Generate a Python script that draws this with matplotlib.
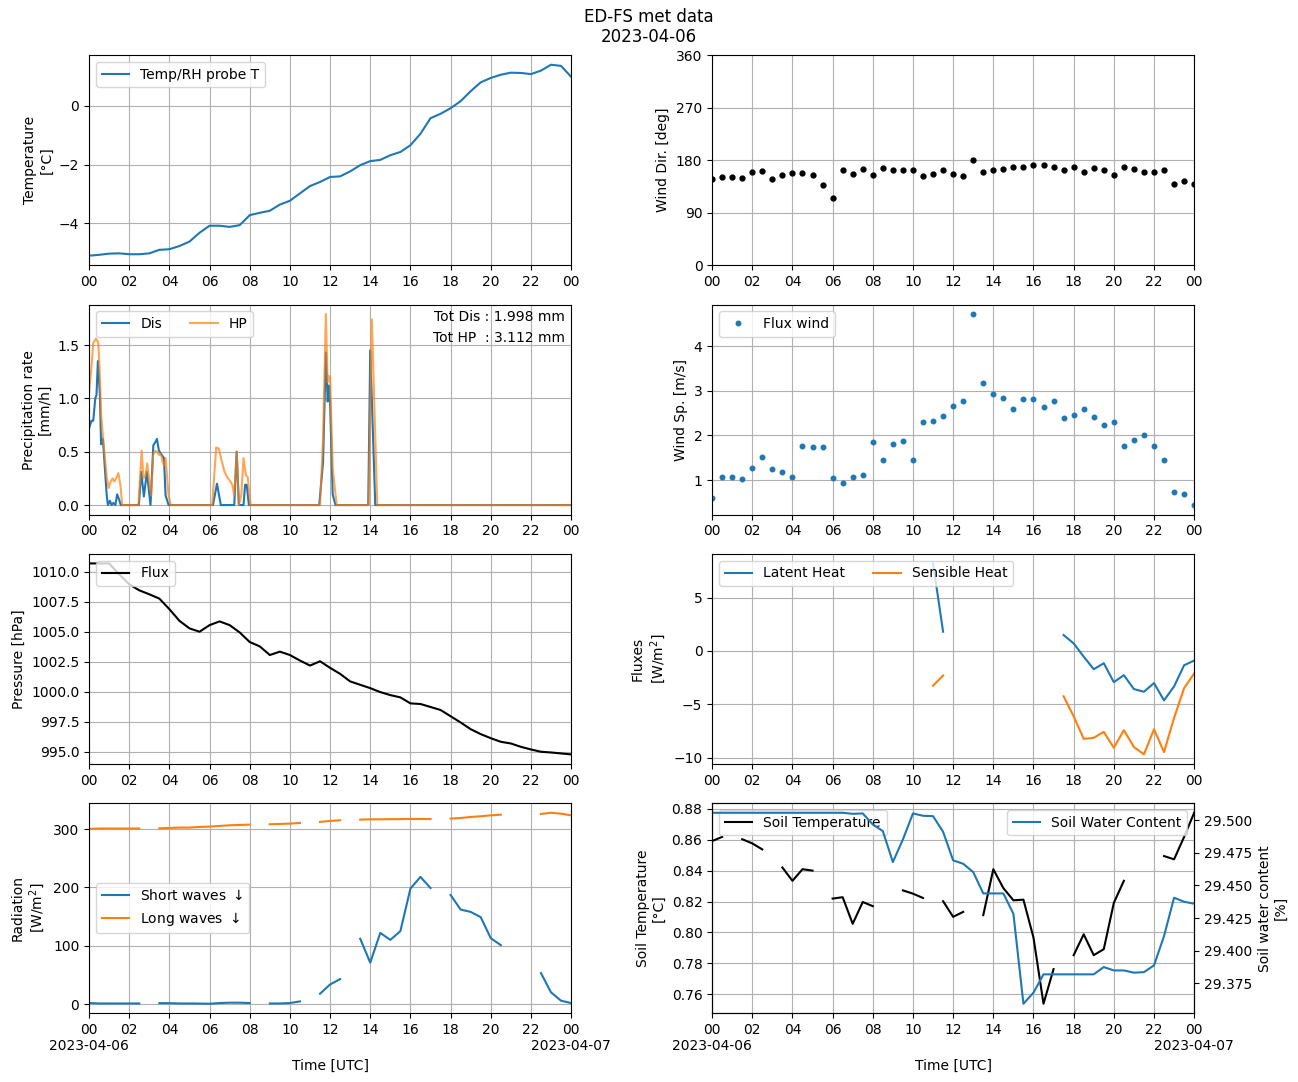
import matplotlib
matplotlib.use("Agg")
import matplotlib.pyplot as plt
import matplotlib.dates as mdates
from matplotlib.ticker import MultipleLocator, FormatStrFormatter
import numpy as np
import pandas as pd

nan = np.nan

# half-hourly series, 00:00 .. 24:00
temp = [-5.10, -5.07, -5.03, -5.02, -5.05, -5.05, -5.02, -4.90, -4.88, -4.77,
        -4.62, -4.32, -4.08, -4.08, -4.12, -4.06, -3.72, -3.64, -3.57, -3.36,
        -3.23, -2.98, -2.73, -2.59, -2.42, -2.40, -2.23, -2.02, -1.88, -1.84,
        -1.68, -1.57, -1.34, -0.95, -0.42, -0.27, -0.08, 0.16, 0.50, 0.80,
        0.95, 1.06, 1.13, 1.12, 1.08, 1.20, 1.40, 1.36, 0.99]

wind_dir = [147, 152, 151, 149, 159, 161, 147, 155, 158, 158,
            155, 137, 115, 163, 156, 165, 155, 166, 163, 163,
            164, 153, 157, 163, 156, 153, 181, 159, 163, 165,
            168, 169, 171, 171, 169, 164, 168, 159, 166, 163,
            155, 168, 165, 159, 159, 163, 140, 144, 140]

wind_sp = [0.60, 1.07, 1.07, 1.02, 1.27, 1.51, 1.25, 1.18, 1.07, 1.76,
           1.74, 1.74, 1.04, 0.93, 1.07, 1.11, 1.85, 1.46, 1.80, 1.87,
           1.45, 2.30, 2.32, 2.43, 2.66, 2.77, 4.72, 3.17, 2.93, 2.84,
           2.59, 2.82, 2.82, 2.64, 2.77, 2.39, 2.45, 2.59, 2.41, 2.23,
           2.30, 1.76, 1.89, 2.02, 1.76, 1.45, 0.73, 0.69, 0.44]

pressure = [1010.69, 1010.69, 1010.69, 1009.78, 1008.95, 1008.45, 1008.12, 1007.76, 1006.88, 1005.91,
            1005.28, 1005.00, 1005.55, 1005.86, 1005.55, 1004.94, 1004.14, 1003.78, 1003.06, 1003.34,
            1003.06, 1002.60, 1002.18, 1002.54, 1001.99, 1001.49, 1000.86, 1000.58, 1000.30, 999.97,
            999.72, 999.53, 999.03, 998.98, 998.73, 998.48, 997.96, 997.44, 996.88, 996.47,
            996.13, 995.83, 995.69, 995.41, 995.19, 995.00, 994.94, 994.86, 994.78]

latent = [nan] * 22 + [8.2, 1.8] + [nan] * 11 + \
         [1.49, 0.71, -0.53, -1.71, -1.15, -2.92, -2.27, -3.57, -3.82, -3.01, -4.63, -3.32, -1.34, -0.90]
sensible = [nan] * 22 + [-3.26, -2.30] + [nan] * 11 + \
           [-4.25, -6.12, -8.23, -8.14, -7.58, -9.07, -7.42, -9.00, -9.69, -7.33, -9.47, -6.27, -3.48, -2.11]

short_wave = [1.7, 1.0, 1.0, 1.0, 1.0, 1.0, nan, 1.5, 1.5, 1.0,
              1.0, 0.8, 0.5, 1.7, 2.3, 2.3, 1.7, nan, 1.0, 1.0,
              1.7, 4.5, nan, 17.7, 33.6, 42.7, nan, 112, 71, 122,
              110, 125, 198, 218, 199, nan, 187, 162, 158, 149,
              113, 101, nan, nan, nan, 53, 20, 5.7, 1.7]
long_wave = [300.3, 301, 301, 301, 301, 301, nan, 301.4, 302, 302.6,
             302.6, 303.7, 304.3, 305.4, 306.6, 307.1, 307.7, nan, 308.3, 308.8,
             309.4, 310.5, nan, 312.3, 314.0, 315.1, nan, 316.2, 316.8, 316.8,
             317.0, 317.2, 317.4, 317.4, 317.2, nan, 318.0, 319.0, 320.8, 322.0,
             323.6, 324.8, nan, nan, nan, 326.0, 328.0, 326.5, 323.6]

soil_temp = [0.8591, 0.8618, nan, 0.8603, 0.8576, 0.8537, nan, 0.8420, 0.8334, 0.8409,
             0.8400, nan, 0.8219, 0.8228, 0.8056, 0.8197, 0.8170, nan, nan, 0.8272,
             0.8251, 0.8223, nan, 0.8202, 0.8101, 0.8133, nan, 0.8112, 0.8409, 0.8287,
             0.8208, 0.8212, 0.7967, 0.7539, 0.7763, nan, 0.7853, 0.7988, 0.7853, 0.7892,
             0.8191, 0.8334, nan, nan, nan, 0.8494, 0.8473, 0.8618, 0.8774]
soil_water = [29.5059, 29.5059, 29.5059, 29.5059, 29.5059, 29.5059, 29.5059, 29.5059, 29.5059, 29.5059,
              29.5059, 29.5059, 29.5059, 29.5059, 29.5051, 29.5054, 29.4969, 29.4918, 29.4680, 29.4854,
              29.5054, 29.5036, 29.5033, 29.4913, 29.4693, 29.4667, 29.4603, 29.4439, 29.4439, 29.4439,
              29.4283, 29.3591, 29.3676, 29.3817, 29.3817, 29.3817, 29.3817, 29.3817, 29.3817, 29.3873,
              29.3847, 29.3847, 29.3830, 29.3834, 29.3886, 29.4111, 29.4406, 29.4375, 29.4360]

# precipitation breakpoints (hours, mm/h)
dis_hours = [0, 0.12, 0.21, 0.31, 0.37, 0.44, 0.54, 0.6, 0.69, 0.79, 0.88, 0.94, 1.04, 1.12, 1.21,
             1.31, 1.4, 1.5, 1.58, 2.48, 2.6, 2.73, 2.88, 3.06, 3.2, 3.3, 3.38, 3.48, 3.62, 3.73,
             3.81, 3.96, 6.17, 6.37, 6.56, 7.23, 7.35, 7.46, 7.69, 7.77, 7.85, 7.96, 11.46, 11.65,
             11.79, 11.88, 11.94, 12.0, 12.13, 12.27, 13.9, 14.0, 14.25, 24.0]
dis_rate = [0.72, 0.79, 0.79, 1.0, 1.03, 1.35, 1.03, 0.57, 0.62, 0.34, 0.09, 0.0, 0.04, 0.0, 0.02,
            0.0, 0.1, 0.05, 0.0, 0.0, 0.31, 0.08, 0.31, 0.0, 0.56, 0.59, 0.62, 0.51, 0.47, 0.44,
            0.09, 0.0, 0.0, 0.2, 0.0, 0.0, 0.5, 0.0, 0.0, 0.19, 0.19, 0.0, 0.0, 0.4,
            1.43, 0.97, 1.12, 0.97, 0.1, 0.0, 0.0, 1.45, 0.0, 0.0]
hp_hours = [0, 0.12, 0.21, 0.35, 0.46, 0.54, 0.6, 0.69, 0.79, 0.88, 0.98, 1.08, 1.17, 1.27, 1.37,
            1.46, 1.56, 1.65, 2.46, 2.62, 2.71, 2.81, 2.9, 3.0, 3.1, 3.19, 3.29, 3.38, 3.48, 3.58,
            3.67, 3.73, 3.81, 3.96, 4.06, 6.13, 6.33, 6.46, 6.62, 6.75, 6.88, 7.04, 7.13, 7.23,
            7.35, 7.46, 7.58, 7.69, 7.81, 7.9, 8.04, 11.5, 11.65, 11.79, 11.88, 11.94, 12.0,
            12.13, 12.33, 13.92, 14.08, 14.35, 24.0]
hp_rate = [1.06, 1.29, 1.52, 1.56, 1.52, 1.21, 0.84, 0.65, 0.44, 0.26, 0.16, 0.22, 0.25, 0.22, 0.26,
           0.30, 0.19, 0.0, 0.0, 0.51, 0.25, 0.28, 0.39, 0.22, 0.09, 0.47, 0.51, 0.5, 0.47, 0.48,
           0.40, 0.37, 0.44, 0.09, 0.0, 0.0, 0.54, 0.53, 0.40, 0.31, 0.26, 0.22, 0.19, 0.09,
           0.50, 0.0, 0.09, 0.44, 0.28, 0.26, 0.0, 0.0, 0.62, 1.79, 1.15, 1.21, 1.2,
           0.34, 0.0, 0.0, 1.74, 0.0, 0.0]

day = pd.Timestamp("2023-04-06")
times = pd.date_range(day, periods=49, freq="30min")
dis_times = day + pd.to_timedelta(dis_hours, unit="h")
hp_times = day + pd.to_timedelta(hp_hours, unit="h")

fig, axes = plt.subplots(4, 2, figsize=(12.98, 10.82), dpi=100)
fig.subplots_adjust(left=0.0686, right=0.92, top=0.949, bottom=0.0635, wspace=0.2925, hspace=0.187)
fig.suptitle("ED-FS met data\n2023-04-06", y=0.993)

ax = axes[0, 0]
ax.plot(times, temp, label="Temp/RH probe T")
ax.set_ylabel("Temperature\n[°C]")
ax.legend(loc="upper left")

ax = axes[0, 1]
ax.plot(times, wind_dir, ".", color="black", markersize=7)
ax.set_ylim(0, 360)
ax.set_yticks([0, 90, 180, 270, 360])
ax.set_ylabel("Wind Dir. [deg]")

ax = axes[1, 0]
ax.plot(dis_times, dis_rate, label="Dis")
ax.plot(hp_times, hp_rate, label="HP", alpha=0.7)
ax.set_ylabel("Precipitation rate\n[mm/h]")
ax.legend(loc="upper left", ncol=2)
ax.text(0.988, 0.975, "Tot Dis : 1.998 mm", transform=ax.transAxes, ha="right", va="top")
ax.text(0.988, 0.875, "Tot HP  : 3.112 mm", transform=ax.transAxes, ha="right", va="top")

ax = axes[1, 1]
ax.plot(times, wind_sp, ".", color="tab:blue", markersize=6.5, label="Flux wind")
ax.set_ylabel("Wind Sp. [m/s]")
ax.legend(loc="upper left")

ax = axes[2, 0]
ax.plot(times, pressure, color="black", label="Flux")
ax.yaxis.set_major_locator(MultipleLocator(2.5))
ax.yaxis.set_major_formatter(FormatStrFormatter("%.1f"))
ax.set_ylabel("Pressure [hPa]")
ax.legend(loc="upper left")

ax = axes[2, 1]
ax.plot(times, latent, label="Latent Heat")
ax.plot(times, sensible, label="Sensible Heat")
ax.set_ylabel("Fluxes\n[W/m$^2$]")
ax.legend(loc="upper left", ncol=2)

ax = axes[3, 0]
ax.plot(times, short_wave, label="Short waves $\\downarrow$")
ax.plot(times, long_wave, label="Long waves $\\downarrow$")
ax.set_ylabel("Radiation\n[W/m$^2$]")
ax.legend(loc="center left")

ax = axes[3, 1]
ax.plot(times, soil_temp, color="black", label="Soil Temperature")
ax.set_ylabel("Soil Temperature\n[°C]")
ax.legend(loc="upper left")
ax2 = ax.twinx()
ax2.plot(times, soil_water, color="tab:blue", label="Soil Water Content")
ax2.set_ylabel("Soil water content\n[%]")
ax2.legend(loc="upper right")


def hour_fmt(x, pos=None):
    d = mdates.num2date(x)
    return d.strftime("%H")


def hour_date_fmt(x, pos=None):
    d = mdates.num2date(x)
    if d.hour == 0:
        return d.strftime("%H\n%Y-%m-%d")
    return d.strftime("%H")


for i in range(4):
    for j in range(2):
        ax = axes[i, j]
        ax.set_xlim(day, day + pd.Timedelta(hours=24))
        ax.xaxis.set_major_locator(mdates.HourLocator(interval=2))
        if i == 3:
            ax.xaxis.set_major_formatter(plt.FuncFormatter(hour_date_fmt))
            ax.set_xlabel("Time [UTC]")
        else:
            ax.xaxis.set_major_formatter(plt.FuncFormatter(hour_fmt))
        ax.grid(True)

plt.savefig("out.png")
